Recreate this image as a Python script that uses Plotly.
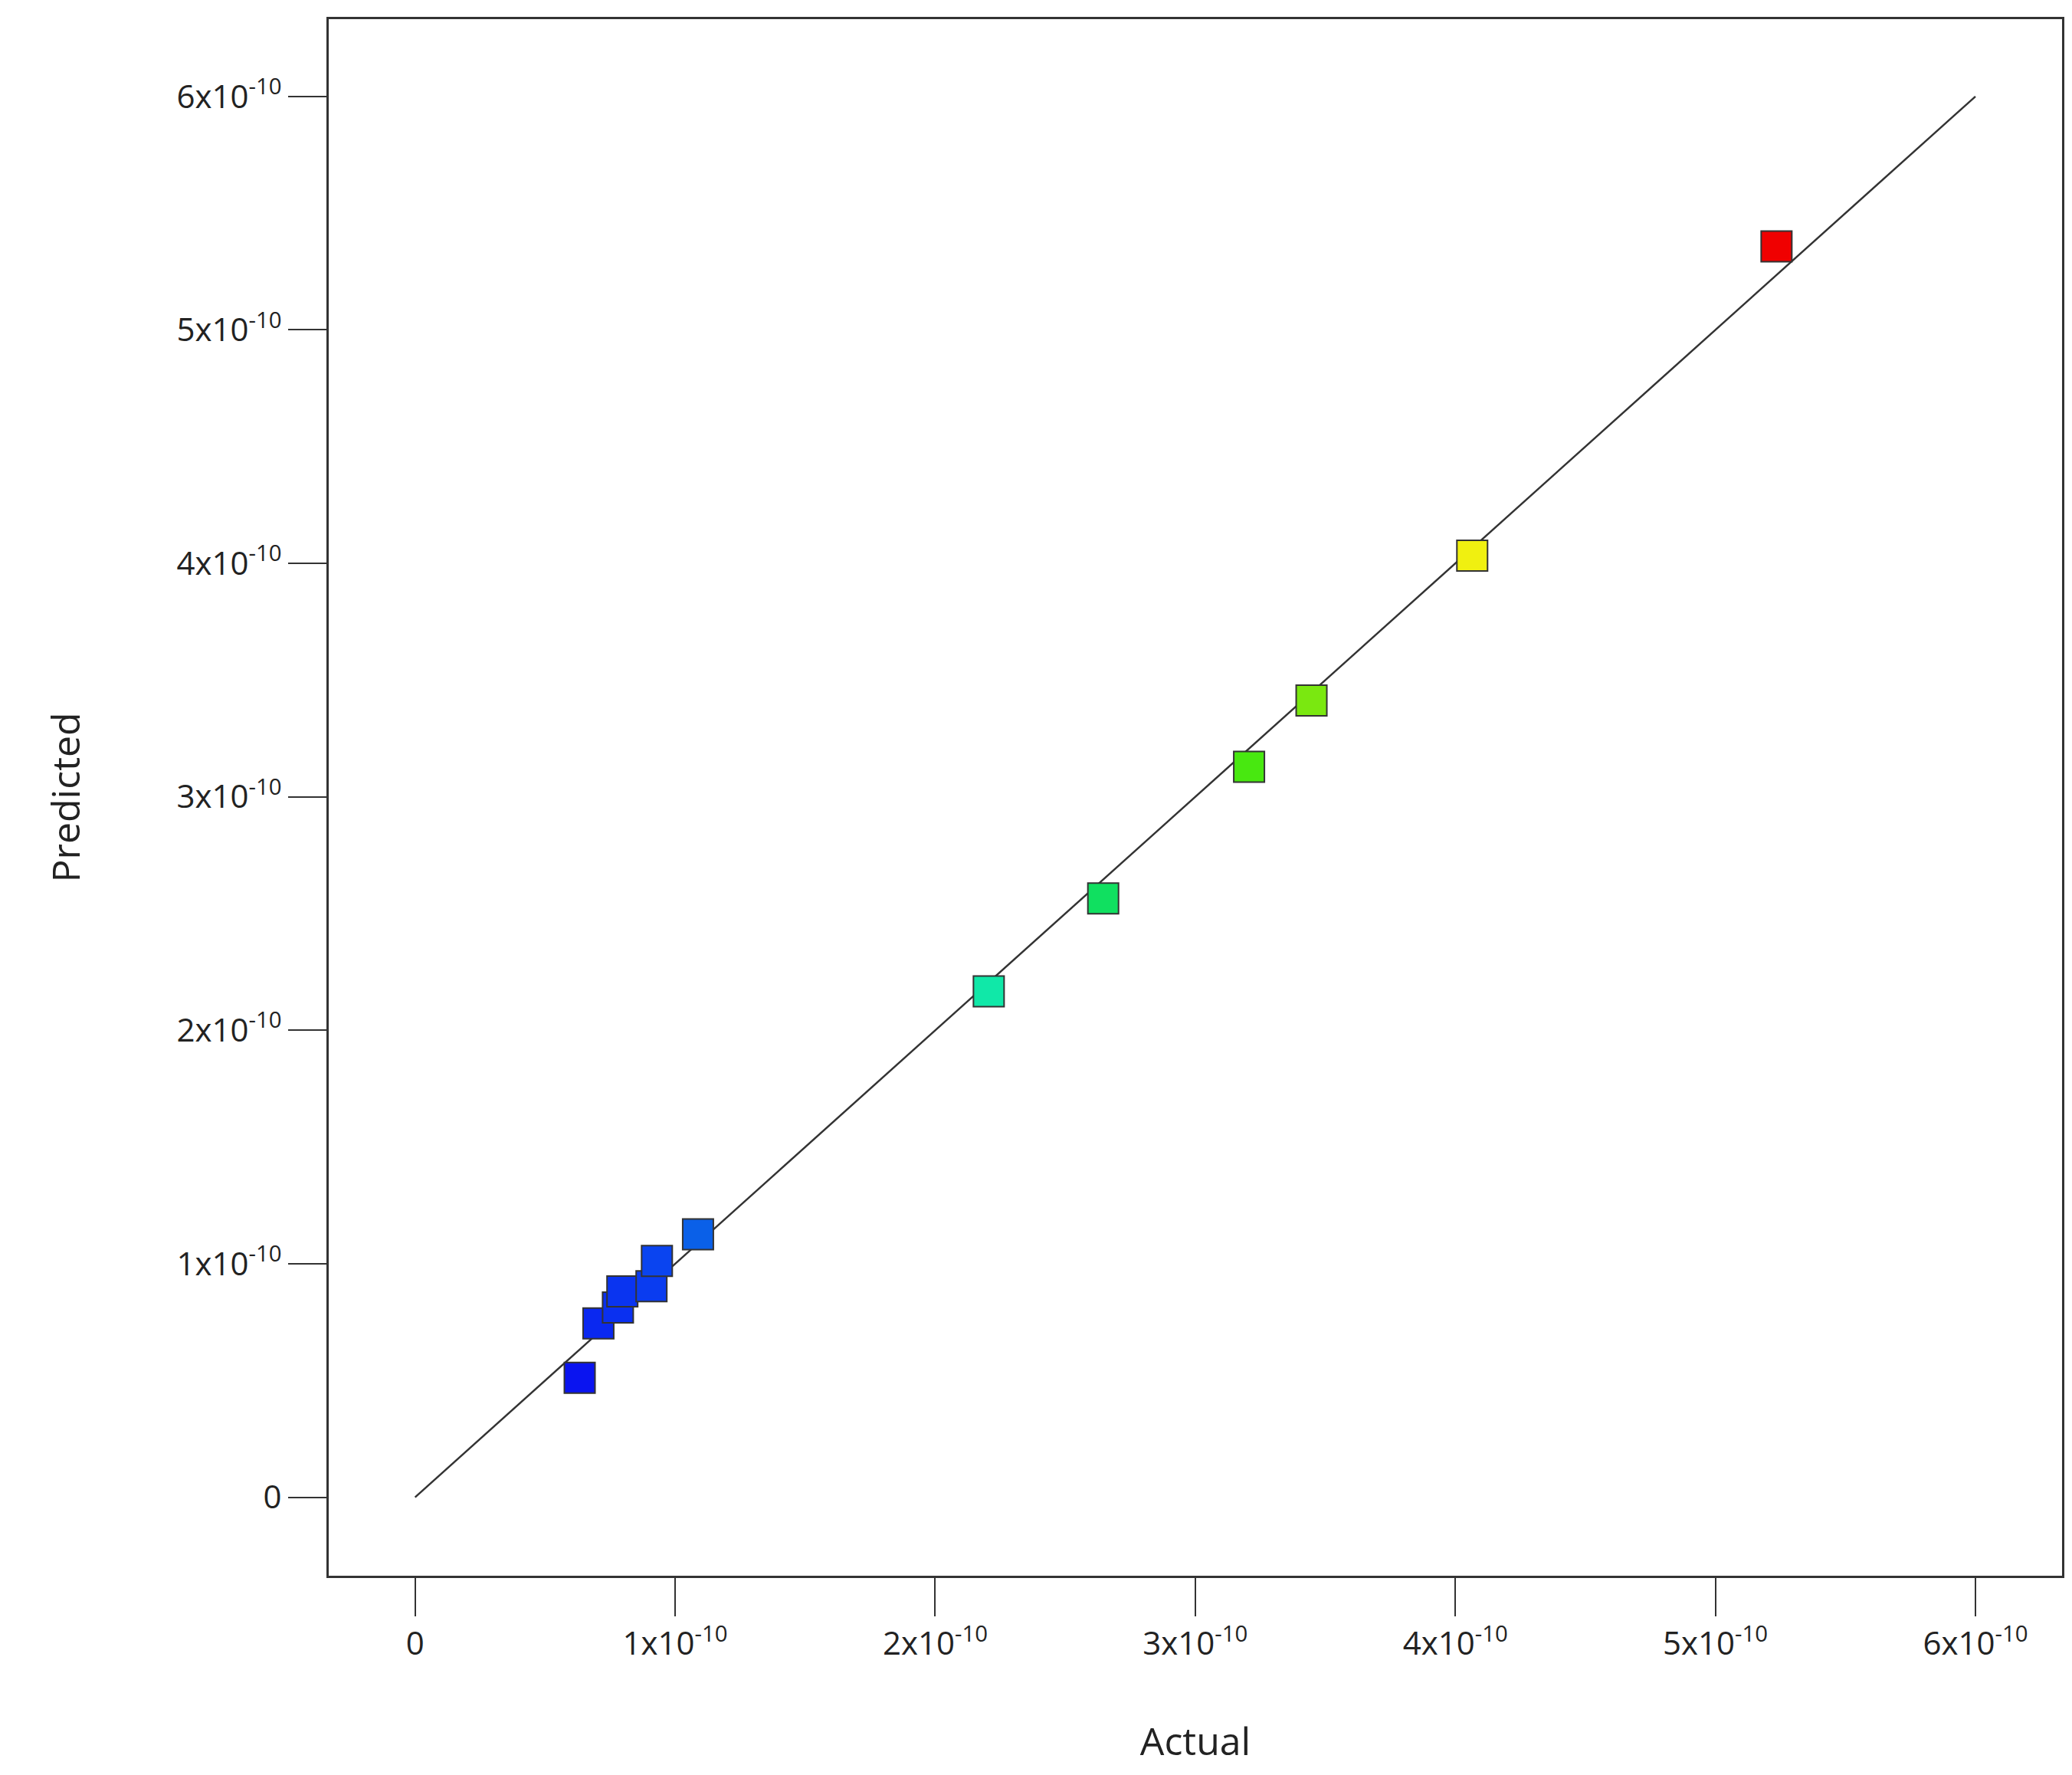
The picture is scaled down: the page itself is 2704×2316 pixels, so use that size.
import plotly.graph_objects as go

# Actual vs predicted values (units of 1e-10)
actual = [0.633, 0.705, 0.780, 0.797, 0.909, 0.930, 1.088, 2.206, 2.646, 3.207, 3.447, 4.065, 5.235]
predicted = [0.512, 0.745, 0.813, 0.882, 0.904, 1.012, 1.126, 2.167, 2.565, 3.129, 3.413, 4.033, 5.358]
point_colors = ['#0a14f0', '#0a28f0', '#0a30f0', '#0a34f0', '#0a3cf0', '#0a44f0', '#0a60e8',
                '#10e8a8', '#10e060', '#48e810', '#7ae810', '#f0f010', '#f00000']
tick_vals = [0, 1, 2, 3, 4, 5, 6]
tick_text = ['0'] + [f'{v}x10<sup>-10</sup>' for v in tick_vals[1:]]

scale = 1e-10
fig = go.Figure()
fig.add_trace(go.Scatter(x=[0, 6 * scale], y=[0, 6 * scale], mode='lines',
                         line=dict(color='#333333', width=2.5), showlegend=False))
fig.add_trace(go.Scatter(x=[v * scale for v in actual], y=[v * scale for v in predicted],
                         mode='markers', showlegend=False,
                         marker=dict(symbol='square', size=40, color=point_colors,
                                     line=dict(color='#333333', width=2))))

axis_common = dict(showline=True, linecolor='#333333', linewidth=3, mirror=True,
                   showgrid=False, zeroline=False, ticks='outside', ticklen=50,
                   tickcolor='#333333', tickwidth=2,
                   tickvals=[v * scale for v in tick_vals], ticktext=tick_text,
                   tickfont=dict(size=42, color='#222222'))
fig.update_layout(
    width=2704, height=2316,
    margin=dict(l=421, r=21, t=17, b=268),
    plot_bgcolor='white', paper_bgcolor='white',
    font=dict(family='Open Sans, DejaVu Sans, sans-serif'),
    xaxis=dict(axis_common, range=[-0.332 * scale, 6.333 * scale],
               title=dict(text='Actual', font=dict(size=50, color='#222222'), standoff=85)),
    yaxis=dict(axis_common, range=[-0.336 * scale, 6.331 * scale],
               title=dict(text='Predicted', font=dict(size=50, color='#222222'), standoff=110)),
)
fig.write_html("out.html")
